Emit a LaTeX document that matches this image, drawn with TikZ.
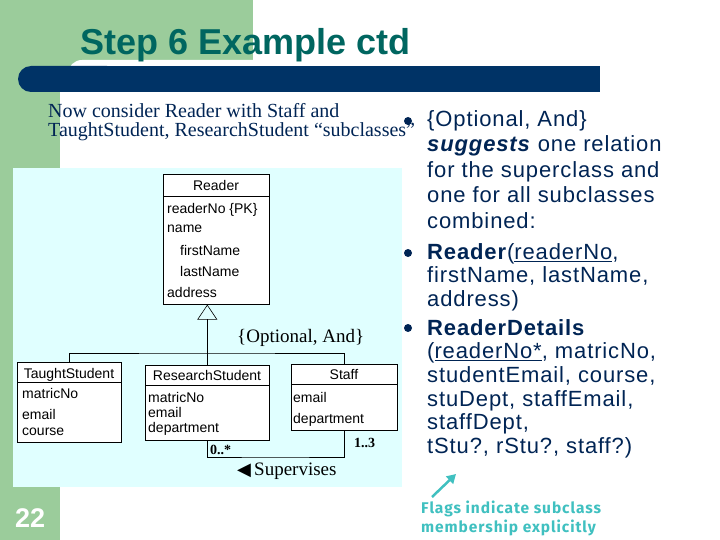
\documentclass[tikz,border=0pt]{standalone}
\usepackage{fontspec}
\setmainfont{Liberation Sans}
\newfontfamily\timesfont{Liberation Serif}
\newfontfamily\bodyfont[LetterSpace=4]{Liberation Sans}
\newfontfamily\flagsfont[LetterSpace=6]{Fira Sans}
\newfontfamily\symfont{DejaVu Sans}
\usetikzlibrary{arrows.meta, positioning, calc}
\definecolor{slidegreen}{RGB}{155,204,155}
\definecolor{barnavy}{RGB}{0,51,102}
\definecolor{titleteal}{RGB}{0,102,96}
\definecolor{textnavy}{RGB}{0,36,84}
\definecolor{umlcyan}{RGB}{224,255,255}
\definecolor{flagcyan}{RGB}{64,192,192}
\newcommand{\toprule}[1]{\rule{0pt}{#1}}

\begin{document}
\begin{tikzpicture}[x=1pt, y=-1pt,
  every node/.style={inner sep=0pt},
  cls/.style ={draw, fill=white, line width=0.6pt, anchor=north west},
  hdr/.style ={font=\fontsize{14}{16}\selectfont, anchor=base},
  attr/.style={font=\fontsize{14}{16}\selectfont, anchor=base west},
  note/.style={font=\timesfont\fontsize{19}{21}\selectfont, anchor=base west},
  mult/.style={font=\timesfont\bfseries\fontsize{14}{16}\selectfont, anchor=base west},
  para/.style={text=textnavy, align=left, anchor=north west},
  bul/.style ={circle, fill=textnavy, minimum size=8pt},
  link/.style={line width=0.6pt},
  flagarr/.style={-{Triangle[length=9pt,width=10pt]}, line width=2.5pt, draw=flagcyan}
]

\useasboundingbox (0,0) rectangle (720,540);

%% --- slide background ---
\fill[slidegreen] (0,0) rectangle (253,68);
\fill[slidegreen] (0,0) rectangle (60,540);
\fill[white, rounded corners=14pt] (68,60) rectangle (320,96);
\fill[barnavy, rounded corners=13pt] (18,66) rectangle (120,92);
\fill[barnavy] (60,66) rectangle (600,92);
\fill[umlcyan] (13,168) rectangle (402,487);

%% --- title and page number ---
\node[font=\bfseries\fontsize{36}{40}\selectfont, text=titleteal, anchor=base west]
  (title) at (80,55) {Step 6 Example ctd};
\node[font=\bfseries\fontsize{27}{30}\selectfont, text=white, anchor=base west]
  (pagenum) at (15,527) {22};

%% --- intro text ---
\node[para, font=\timesfont\fontsize{20}{19}\selectfont] (intro) at (48,102)
  {\toprule{15pt}Now consider Reader with Staff and\\
   TaughtStudent, ResearchStudent “subclasses”};

%% --- bullets on the right ---
\node[bul] (b1) at (408,121) {};
\node[bul] (b2) at (408,253) {};
\node[bul] (b3) at (408,328) {};

\node[para, font=\bodyfont\fontsize{22}{25.5}\selectfont] (p1) at (427,108)
  {\toprule{18pt}\{Optional, And\}\\
   \textbf{\textit{suggests}} one relation\\
   for the superclass and\\
   one for all subclasses\\
   combined:};
\node[para, font=\bodyfont\fontsize{22}{23.6}\selectfont] (p2) at (427,241)
  {\toprule{18pt}\textbf{Reader}(\underline{readerNo},\\
   firstName, lastName,\\
   address)};
\node[para, font=\bodyfont\fontsize{22}{23.6}\selectfont] (p3) at (427,317)
  {\toprule{18pt}\textbf{ReaderDetails}\\
   (\underline{readerNo*}, matricNo,\\
   studentEmail, course,\\
   stuDept, staffEmail,\\
   staffDept,\\
   tStu?, rStu?, staff?)};

%% --- flags note ---
\node[para, font=\flagsfont\bfseries\fontsize{15.5}{19}\selectfont, text=flagcyan]
  (flags) at (421,500)
  {\toprule{13pt}Flags indicate subclass\\ membership explicitly};
\coordinate (flagtip) at (456,474);
\draw[flagarr] ([xshift=11pt,yshift=3pt]flags.north west) -- (flagtip);

%% --- UML classes ---
\node[cls, minimum width=106, minimum height=130] (reader) at (163,174) {};
\draw[link] ([yshift=-22pt]reader.north west) -- ([yshift=-22pt]reader.north east);
\node[hdr]  (reader_h) at (216,191) {Reader};
\node[attr] (reader_a1) at (167,214) {readerNo \{PK\}};
\node[attr] (reader_a2) at (167,233) {name};
\node[attr] (reader_a3) at (180,255) {firstName};
\node[attr] (reader_a4) at (180,276) {lastName};
\node[attr] (reader_a5) at (167,297) {address};

\node[cls, minimum width=104, minimum height=80] (taught) at (17,362) {};
\draw[link] ([yshift=-20pt]taught.north west) -- ([yshift=-20pt]taught.north east);
\node[hdr]  (taught_h) at (69,378) {TaughtStudent};
\node[attr] (taught_a1) at (22,398) {matricNo};
\node[attr] (taught_a2) at (22,419) {email};
\node[attr] (taught_a3) at (22,435) {course};

\node[cls, minimum width=124, minimum height=75] (research) at (145,365) {};
\draw[link] ([yshift=-20pt]research.north west) -- ([yshift=-20pt]research.north east);
\node[hdr]  (research_h) at (207,380) {ResearchStudent};
\node[attr] (research_a1) at (148,402) {matricNo};
\node[attr] (research_a2) at (148,417) {email};
\node[attr] (research_a3) at (148,432) {department};

\node[cls, minimum width=106, minimum height=66] (staff) at (291,364) {};
\draw[link] ([yshift=-20pt]staff.north west) -- ([yshift=-20pt]staff.north east);
\node[hdr]  (staff_h) at (344,379) {Staff};
\node[attr] (staff_a1) at (293,402) {email};
\node[attr] (staff_a2) at (293,423) {department};

%% --- generalisation and association ---
\coordinate (tree) at (207,353);
\draw[link, -{Triangle[open, length=15pt, width=20pt]}]
  (research.north) -- (research.north |- reader.south);
\draw[link] (taught.north) |- (tree) -| (staff.north);

\coordinate (assoc) at (275,457);
\draw[link] (research.south) |- (assoc) -| (staff.south);

\node[note] (constraint) at (237,342) {\{Optional, And\}};
\node[mult] (mult_r) at (210,454) {0..*};
\node[mult] (mult_s) at (354,447) {1..3};
\node[note] (supervises) at (237,475) {{\symfont\fontsize{18}{20}\selectfont ◀}\,Supervises};

\end{tikzpicture}
\end{document}
